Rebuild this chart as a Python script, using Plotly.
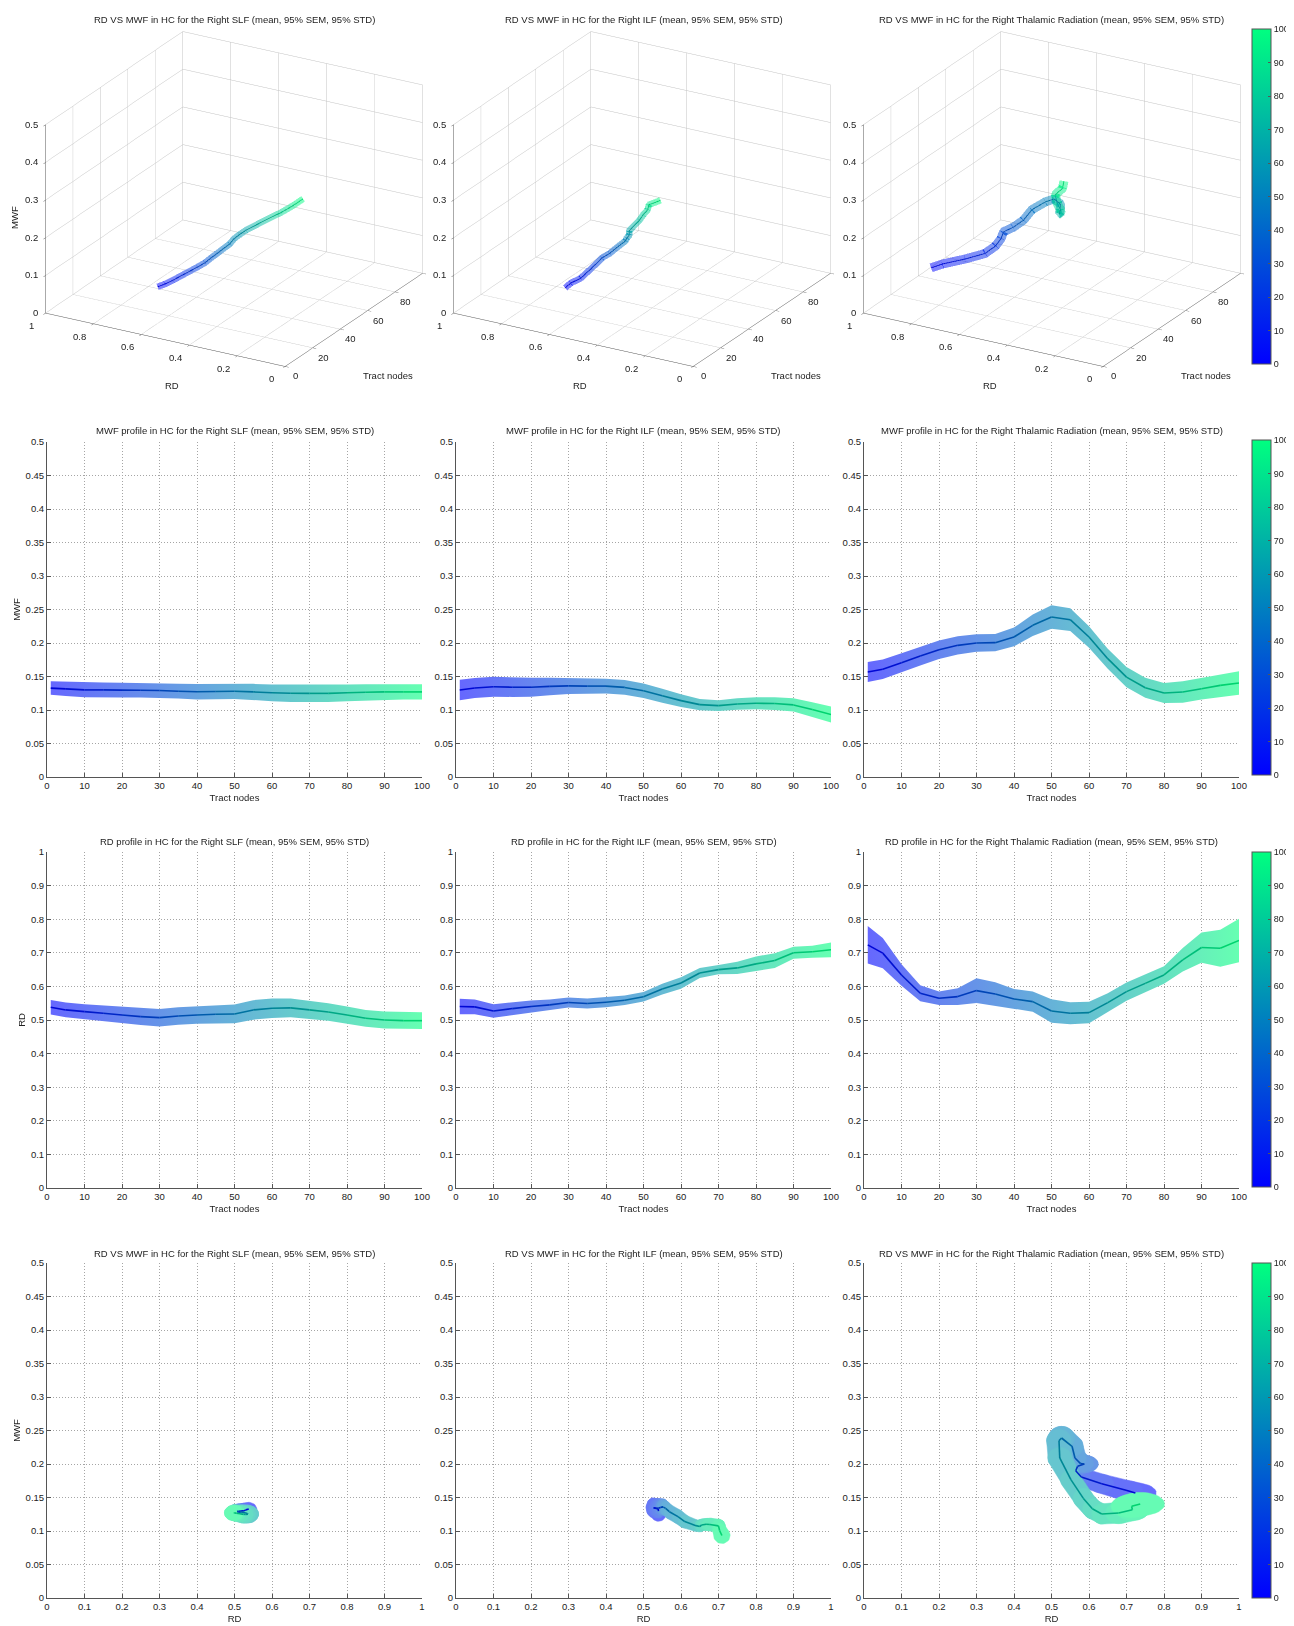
import numpy as np
import plotly.graph_objects as go

# ---------------- data ----------------
nodes = [1, 5, 10, 15, 20, 25, 30, 35, 40, 45, 50, 55, 60, 65, 70, 75, 80, 85, 90, 95, 100]
tracts = ["SLF", "ILF", "Thalamic Radiation"]

slf_mwf = [0.1327, 0.1315, 0.130, 0.130, 0.1297, 0.1295, 0.129, 0.128, 0.1272, 0.1275, 0.128,
           0.127, 0.1257, 0.125, 0.1248, 0.1248, 0.1257, 0.1265, 0.127, 0.127, 0.127]
slf_mwf_ci = [0.0101, 0.0105, 0.011, 0.011, 0.011, 0.011, 0.011, 0.011, 0.0115, 0.0115, 0.0115,
              0.012, 0.0125, 0.013, 0.013, 0.013, 0.0125, 0.012, 0.012, 0.0115, 0.0115]
slf_rd = [0.538, 0.530, 0.525, 0.520, 0.515, 0.510, 0.507, 0.512, 0.515, 0.517, 0.518,
          0.530, 0.535, 0.536, 0.530, 0.524, 0.515, 0.505, 0.500, 0.498, 0.498]
slf_rd_ci = [0.0215, 0.022, 0.022, 0.023, 0.024, 0.025, 0.026, 0.026, 0.026, 0.027, 0.028,
             0.029, 0.029, 0.028, 0.027, 0.026, 0.025, 0.025, 0.025, 0.025, 0.025]

ilf_mwf = [0.1298, 0.1328, 0.1347, 0.134, 0.134, 0.1352, 0.136, 0.1357, 0.1357, 0.1337, 0.1288,
           0.1214, 0.114, 0.108, 0.1066, 0.109, 0.110, 0.1096, 0.1076, 0.1007, 0.0933]
ilf_mwf_ci = [0.0153, 0.015, 0.0148, 0.0145, 0.0143, 0.013, 0.012, 0.0115, 0.011, 0.011, 0.0108,
              0.0105, 0.0095, 0.0085, 0.008, 0.0085, 0.009, 0.0095, 0.010, 0.011, 0.012]
ilf_rd = [0.540, 0.539, 0.527, 0.534, 0.540, 0.545, 0.552, 0.549, 0.553, 0.559, 0.569,
          0.592, 0.610, 0.640, 0.650, 0.655, 0.667, 0.677, 0.700, 0.703, 0.709]
ilf_rd_ci = [0.023, 0.022, 0.020, 0.019, 0.018, 0.016, 0.015, 0.015, 0.015, 0.014, 0.014,
             0.016, 0.017, 0.015, 0.014, 0.018, 0.022, 0.022, 0.018, 0.018, 0.022]

tr_mwf = [0.1567, 0.1607, 0.1706, 0.1806, 0.190, 0.1965, 0.200, 0.2005, 0.209, 0.2264, 0.2388,
          0.2348, 0.209, 0.1766, 0.149, 0.1333, 0.1254, 0.1269, 0.1318, 0.1368, 0.1403]
tr_mwf_ci = [0.015, 0.0145, 0.014, 0.014, 0.0137, 0.0135, 0.013, 0.013, 0.014, 0.016, 0.0174,
             0.017, 0.016, 0.015, 0.015, 0.015, 0.015, 0.016, 0.016, 0.017, 0.0174]
tr_rd = [0.7237, 0.699, 0.634, 0.5795, 0.5646, 0.5696, 0.5875, 0.5775, 0.5626, 0.5547, 0.5268,
         0.520, 0.522, 0.5517, 0.5845, 0.609, 0.634, 0.679, 0.7157, 0.7137, 0.7366]
tr_rd_ci = [0.0557, 0.045, 0.032, 0.024, 0.020, 0.025, 0.037, 0.035, 0.030, 0.030, 0.035,
            0.033, 0.032, 0.028, 0.027, 0.026, 0.026, 0.035, 0.045, 0.055, 0.065]

mwf_tab = [slf_mwf, ilf_mwf, tr_mwf]
mwf_ci_tab = [slf_mwf_ci, ilf_mwf_ci, tr_mwf_ci]
rd_tab = [slf_rd, ilf_rd, tr_rd]
rd_ci_tab = [slf_rd_ci, ilf_rd_ci, tr_rd_ci]

colorbar_ticks = list(range(0, 101, 10))
node_ticks_3d = [0, 20, 40, 60, 80]
rd_ticks_3d = [0, 0.2, 0.4, 0.6, 0.8, 1]
mwf_ticks_3d = [0, 0.1, 0.2, 0.3, 0.4, 0.5]

# ---------------- styling helpers ----------------
FONT = "Liberation Sans, Arial, sans-serif"
FS = 9.5
PAGE_W, PAGE_H = 1294, 1626
OFF = 8                      # default body margin of the page
W, H = PAGE_W - OFF, PAGE_H - OFF
ALPHA = 0.6
LINE_DARK = 0.85
TXT = "#222"


def winter(t):
    return np.array([0.0, 255.0 * t, 255.0 * (1 - 0.5 * t)])


def light(c, a=ALPHA):
    return 255 - a * (255 - c)


def css(c):
    c = np.clip(c, 0, 255)
    return "rgb(%d,%d,%d)" % tuple(int(round(v)) for v in c)


winter_scale = [[0, css(winter(0))], [1, css(winter(1))]]
light_scale = [[0, css(light(winter(0)))], [1, css(light(winter(1)))]]
dark_scale = [[0, css(winter(0) * LINE_DARK)], [1, css(winter(1) * LINE_DARK)]]


def seg_color(i, fn):
    t = (nodes[i] + nodes[i + 1]) / 2 / 100.0
    return css(fn(winter(t)))


def px(x):  # page pixel -> paper x
    return (x - OFF) / W


def py(y):  # page pixel -> paper y
    return 1 - (y - OFF) / H


xdom = [[px(47), px(422)], [px(456), px(831)], [px(864), px(1239)]]
ydom = [[py(777), py(442)], [py(1188), py(852)], [py(1598), py(1263)]]
col_center = [234.5, 643.5, 1051.5]
col_shift = [0, 408, 818]

fig = go.Figure()

# ---------------- Row 1: 3D ----------------
for c in range(3):
    sname = "scene" if c == 0 else "scene%d" % (c + 1)
    fig.add_trace(go.Scatter3d(
        x=nodes, y=rd_tab[c], z=mwf_tab[c], mode="lines",
        line=dict(width=18 if c == 2 else 13, color=nodes, coloraxis="coloraxis"),
        opacity=0.5, hoverinfo="skip", showlegend=False, scene=sname))
    fig.add_trace(go.Scatter3d(
        x=nodes, y=rd_tab[c], z=mwf_tab[c], mode="lines",
        line=dict(width=2, color=nodes, colorscale=dark_scale, cmin=0, cmax=100, showscale=False),
        hoverinfo="skip", showlegend=False, scene=sname))


def axname(idx, kind):
    return kind if idx == 1 else "%s%d" % (kind, idx)


# ---------------- Rows 2-3: profiles ----------------
for r, (tab, citab) in enumerate([(mwf_tab, mwf_ci_tab), (rd_tab, rd_ci_tab)]):
    for c in range(3):
        idx = r * 3 + c + 1
        xa, ya = axname(idx, "x"), axname(idx, "y")
        m = np.array(tab[c])
        ci = np.array(citab[c])
        up, lo = m + ci, m - ci
        fig.add_trace(go.Scatter(
            x=nodes + nodes[::-1], y=list(up) + list(lo[::-1]), mode="lines", fill="toself",
            line=dict(width=0), fillcolor=css(light(winter(0.5))),
            fillgradient=dict(type="horizontal", colorscale=light_scale, start=0, stop=100),
            xaxis=xa, yaxis=ya, hoverinfo="skip", showlegend=False))
        for i in range(len(nodes) - 1):
            fig.add_trace(go.Scatter(
                x=nodes[i:i + 2], y=list(m[i:i + 2]), mode="lines",
                line=dict(width=1.6, color=seg_color(i, lambda v: v * LINE_DARK)),
                xaxis=xa, yaxis=ya, hoverinfo="skip", showlegend=False))


# ---------------- Row 4: RD vs MWF ----------------
def hull(points):
    pts = sorted(set(points))
    if len(pts) <= 2:
        return pts

    def cross(o, a, b):
        return (a[0] - o[0]) * (b[1] - o[1]) - (a[1] - o[1]) * (b[0] - o[0])
    lower, upper = [], []
    for p in pts:
        while len(lower) >= 2 and cross(lower[-2], lower[-1], p) <= 0:
            lower.pop()
        lower.append(p)
    for p in reversed(pts):
        while len(upper) >= 2 and cross(upper[-2], upper[-1], p) <= 0:
            upper.pop()
        upper.append(p)
    return lower[:-1] + upper[:-1]


theta = np.linspace(0, 2 * np.pi, 36, endpoint=False)
for c in range(3):
    idx = 6 + c + 1
    xa, ya = axname(idx, "x"), axname(idx, "y")
    rd, mw = rd_tab[c], mwf_tab[c]
    rdc, mwc = rd_ci_tab[c], mwf_ci_tab[c]
    for i in range(len(nodes) - 1):
        pts = []
        for j in (i, i + 1):
            for th in theta:
                pts.append((round(rd[j] + rdc[j] * np.cos(th), 6), round(mw[j] + mwc[j] * np.sin(th), 6)))
        hp = hull(pts)
        hx = [p[0] for p in hp] + [hp[0][0]]
        hy = [p[1] for p in hp] + [hp[0][1]]
        col = seg_color(i, light)
        fig.add_trace(go.Scatter(x=hx, y=hy, mode="lines", fill="toself", fillcolor=col,
                                 line=dict(width=0.5, color=col), xaxis=xa, yaxis=ya,
                                 hoverinfo="skip", showlegend=False))
    for i in range(len(nodes) - 1):
        fig.add_trace(go.Scatter(
            x=rd[i:i + 2], y=mw[i:i + 2], mode="lines",
            line=dict(width=1.6, color=seg_color(i, lambda v: v * LINE_DARK)),
            xaxis=xa, yaxis=ya, hoverinfo="skip", showlegend=False))

# colorbar carriers for the 2D rows
for r in range(3):
    idx = r * 3 + 3
    fig.add_trace(go.Scatter(
        x=[50, 50], y=[-5, -5], mode="markers",
        marker=dict(color=[0, 100], coloraxis="coloraxis%d" % (r + 2), opacity=0),
        xaxis=axname(idx, "x"), yaxis=axname(idx, "y"), hoverinfo="skip", showlegend=False))

# ---------------- layout ----------------
layout = dict(width=W, height=H, margin=dict(l=0, r=0, t=0, b=0, autoexpand=False),
              paper_bgcolor="white", plot_bgcolor="white",
              font=dict(family=FONT, size=FS, color=TXT), showlegend=False)

tickfont = dict(family=FONT, size=FS, color=TXT)


def ax2d(domain, rng, dtick, title, anchor):
    return dict(domain=domain, range=rng, dtick=dtick, tick0=0, showgrid=True,
                gridcolor="rgb(165,165,165)", griddash="1px,2px", gridwidth=1, zeroline=False,
                showline=True, linecolor="#555", linewidth=1, ticks="inside", ticklen=4,
                tickcolor="#555", tickfont=tickfont, anchor=anchor, automargin=False,
                title=dict(text=title, font=dict(family=FONT, size=FS, color=TXT), standoff=3))


row_specs = [
    ([0, 100], 10, "Tract nodes", [0, 0.5], 0.05, "MWF"),
    ([0, 100], 10, "Tract nodes", [0, 1], 0.1, "RD"),
    ([0, 1], 0.1, "RD", [0, 0.5], 0.05, "MWF"),
]
for r in range(3):
    xr, xd, xt, yr, yd, yt = row_specs[r]
    for c in range(3):
        idx = r * 3 + c + 1
        layout[axname(idx, "xaxis")] = ax2d(xdom[c], xr, xd, xt, axname(idx, "y"))
        layout[axname(idx, "yaxis")] = ax2d(ydom[r], yr, yd, yt if c == 0 else "", axname(idx, "x"))

# 3D scenes
eye = dict(x=-0.868 * 1.8, y=-0.497 * 1.8, z=0.422 * 1.8)
S3 = 1.535
ann = []
for c in range(3):
    cx = 233.5 + col_shift[c]
    cy = 198.5
    common = dict(showbackground=False, gridcolor="rgb(195,195,195)", gridwidth=1,
                  zeroline=False, showline=True, linecolor="#555", linewidth=1,
                  ticks="outside", ticklen=4, tickcolor="#555", showticklabels=False,
                  showspikes=False, title=dict(text=""))
    scene_ann = []
    for v in rd_ticks_3d:
        scene_ann.append(dict(x=0, y=v, z=0, text="%g" % v, showarrow=False, xanchor="center",
                              yanchor="middle", xshift=-13, yshift=-13, font=tickfont))
    for v in node_ticks_3d:
        scene_ann.append(dict(x=v, y=0, z=0, text="%g" % v, showarrow=False, xanchor="center",
                              yanchor="middle", xshift=11, yshift=-10, font=tickfont))
    for v in mwf_ticks_3d:
        scene_ann.append(dict(x=0, y=1, z=v, text="%g" % v, showarrow=False, xanchor="right",
                              yanchor="middle", xshift=-5, yshift=0, font=tickfont))
    sc = dict(
        domain=dict(x=[px(cx - 200), px(cx + 200)], y=[py(cy + 180), py(cy - 180)]),
        xaxis=dict(range=[0, 100], tickvals=node_ticks_3d + [100], **common),
        yaxis=dict(range=[0, 1], tickvals=rd_ticks_3d, **common),
        zaxis=dict(range=[0, 0.5], tickvals=mwf_ticks_3d, **common),
        aspectmode="manual", aspectratio=dict(x=1 * S3, y=1 * S3, z=0.74 * S3),
        camera=dict(eye=eye, center=dict(x=0, y=0, z=0), up=dict(x=0, y=0, z=1),
                    projection=dict(type="orthographic")),
        annotations=scene_ann,
        bgcolor="white")
    layout["scene" if c == 0 else "scene%d" % (c + 1)] = sc
    # 3D axis titles (MATLAB style, horizontal)
    ann.append(dict(text="RD", x=px(172 + col_shift[c]), y=py(385), xref="paper", yref="paper",
                    xanchor="center", yanchor="middle", showarrow=False,
                    font=dict(family=FONT, size=FS, color=TXT)))
    ann.append(dict(text="Tract nodes", x=px(388 + col_shift[c]), y=py(376), xref="paper", yref="paper",
                    xanchor="center", yanchor="middle", showarrow=False,
                    font=dict(family=FONT, size=FS, color=TXT)))
ann.append(dict(text="MWF", x=px(15), y=py(218), xref="paper", yref="paper", textangle=-90,
                xanchor="center", yanchor="middle", showarrow=False,
                font=dict(family=FONT, size=FS, color=TXT)))

# color axes / colorbars
cb_centers = [196.5, 607.5, 1019.5, 1430.5]
for r in range(4):
    layout["coloraxis" if r == 0 else "coloraxis%d" % (r + 1)] = dict(
        colorscale=winter_scale, cmin=0, cmax=100,
        colorbar=dict(x=px(1252), xanchor="left", y=py(cb_centers[r]), yanchor="middle",
                      len=335, lenmode="pixels", thickness=19, thicknessmode="pixels",
                      tickvals=colorbar_ticks, ticks="inside", ticklen=3, tickcolor="#555",
                      outlinewidth=1, outlinecolor="#555", xpad=0, ypad=0,
                      tickfont=dict(family=FONT, size=9, color=TXT)))

# titles
row_titles = ["RD VS MWF in HC for the Right {} (mean, 95% SEM, 95% STD)",
              "MWF profile in HC for the Right {} (mean, 95% SEM, 95% STD)",
              "RD profile in HC for the Right {} (mean, 95% SEM, 95% STD)",
              "RD VS MWF in HC for the Right {} (mean, 95% SEM, 95% STD)"]
title_y = [19, 430.5, 841.5, 1253]
for r in range(4):
    for c in range(3):
        ann.append(dict(text=row_titles[r].format(tracts[c]),
                        x=px(col_center[c]), y=py(title_y[r]), xref="paper", yref="paper",
                        xanchor="center", yanchor="middle", showarrow=False,
                        font=dict(family=FONT, size=FS, color=TXT)))
layout["annotations"] = ann

fig.update_layout(**layout)
fig.write_html("out.html")
